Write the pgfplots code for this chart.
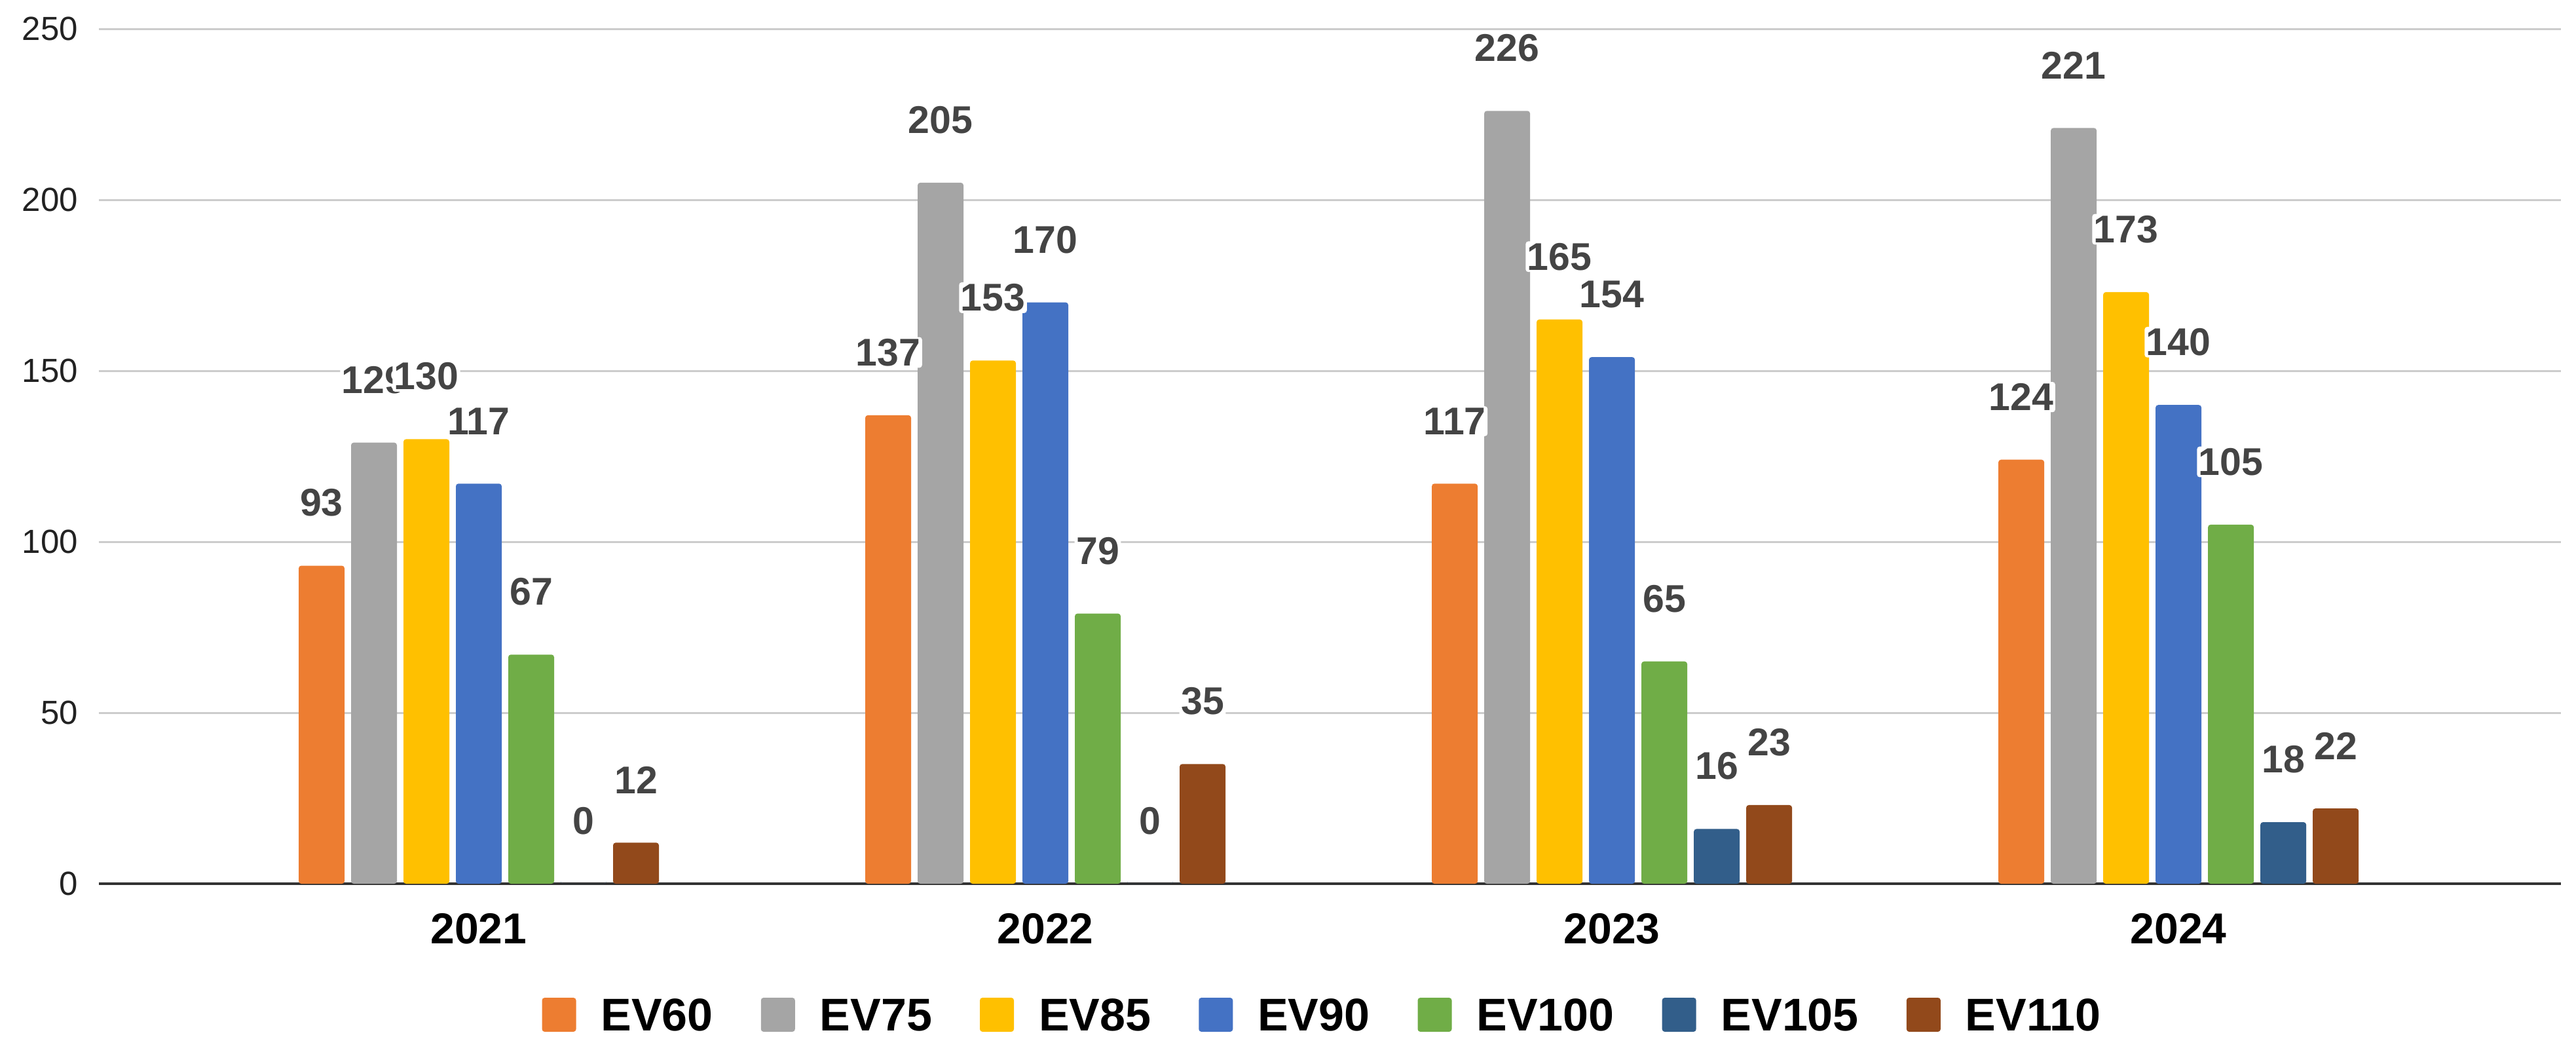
\documentclass[border=0pt]{standalone}
\usepackage{pgfplots}
\pgfplotsset{compat=1.18}
\usepackage{pgfplotstable}
\usepackage{fontspec}
\setmainfont{Liberation Sans}

\definecolor{c60}{HTML}{ED7D31}
\definecolor{c75}{HTML}{A5A5A5}
\definecolor{c85}{HTML}{FFC000}
\definecolor{c90}{HTML}{4472C4}
\definecolor{c100}{HTML}{70AD47}
\definecolor{c105}{HTML}{325E8A}
\definecolor{c110}{HTML}{92491B}
\definecolor{gridc}{HTML}{CCCCCC}
\definecolor{axisc}{HTML}{333333}
\definecolor{labc}{HTML}{444444}
\definecolor{tickc}{HTML}{222222}

\pgfplotstableread{
x EV60 EV75 EV85 EV90 EV100 EV105 EV110
0 93 129 130 117 67 0 12
1 137 205 153 170 79 0 35
2 117 226 165 154 65 16 23
3 124 221 173 140 105 18 22
}\evdata

\begin{document}
\begin{tikzpicture}
\useasboundingbox (-30.2pt,-46.6pt) rectangle (756.4pt,269.8pt);
\begin{axis}[
  at={(0,0)}, anchor=south west,
  scale only axis, width=751.8pt, height=261pt,
  ybar=2pt, bar width=14pt,
  xmin=-0.6705, xmax=3.675, ymin=0, ymax=250,
  xtick={0,1,2,3}, xticklabels={2021,2022,2023,2024},
  ytick={0,50,...,250},
  major tick length=0pt,
  axis line style={draw=none},
  ymajorgrids, major grid style={draw=gridc, line width=0.6pt},
  extra y ticks={0}, extra y tick labels={},
  extra y tick style={grid=major, major grid style={draw=axisc, line width=0.9pt}},
  /pgf/number format/assume math mode=true,
  yticklabel style={font=\fontsize{10.2}{10.2}\selectfont, text=tickc, inner sep=0pt, anchor=east, xshift=-6.2pt},
  xticklabel style={font=\bfseries\fontsize{13.2}{13.2}\selectfont, text=black, inner sep=0pt, anchor=base, yshift=-18.2pt},
  nodes near coords,
  every node near coord/.append style={font=\bfseries\fontsize{11.8}{11.8}\selectfont, text=labc, fill=white, inner sep=0.5pt, anchor=south, yshift=14.3pt},
  clip=false,
  legend columns=-1,
  legend style={draw=none, fill=none, at={(0.4965,0)}, anchor=center, yshift=-40pt, inner sep=0pt,
    font=\bfseries\fontsize{14}{14}\selectfont,
    nodes={inner sep=0pt, text depth=0pt},
    /tikz/every odd column/.append style={column sep=7.6pt},
    /tikz/every even column/.append style={column sep=14.6pt}},
  every axis plot/.append style={draw=none, rounded corners=0.8pt,
    legend image code/.code={\fill[##1] (0pt,-5.2pt) rectangle (10.4pt,5.2pt);}},
]
\addplot[fill=c60] table[x=x,y=EV60] {\evdata};
\addplot[fill=c75] table[x=x,y=EV75] {\evdata};
\addplot[fill=c85] table[x=x,y=EV85] {\evdata};
\addplot[fill=c90] table[x=x,y=EV90] {\evdata};
\addplot[fill=c100] table[x=x,y=EV100] {\evdata};
\addplot[fill=c105] table[x=x,y=EV105] {\evdata};
\addplot[fill=c110] table[x=x,y=EV110] {\evdata};
\legend{EV60,EV75,EV85,EV90,EV100,EV105,EV110}
\end{axis}
\end{tikzpicture}
\end{document}
